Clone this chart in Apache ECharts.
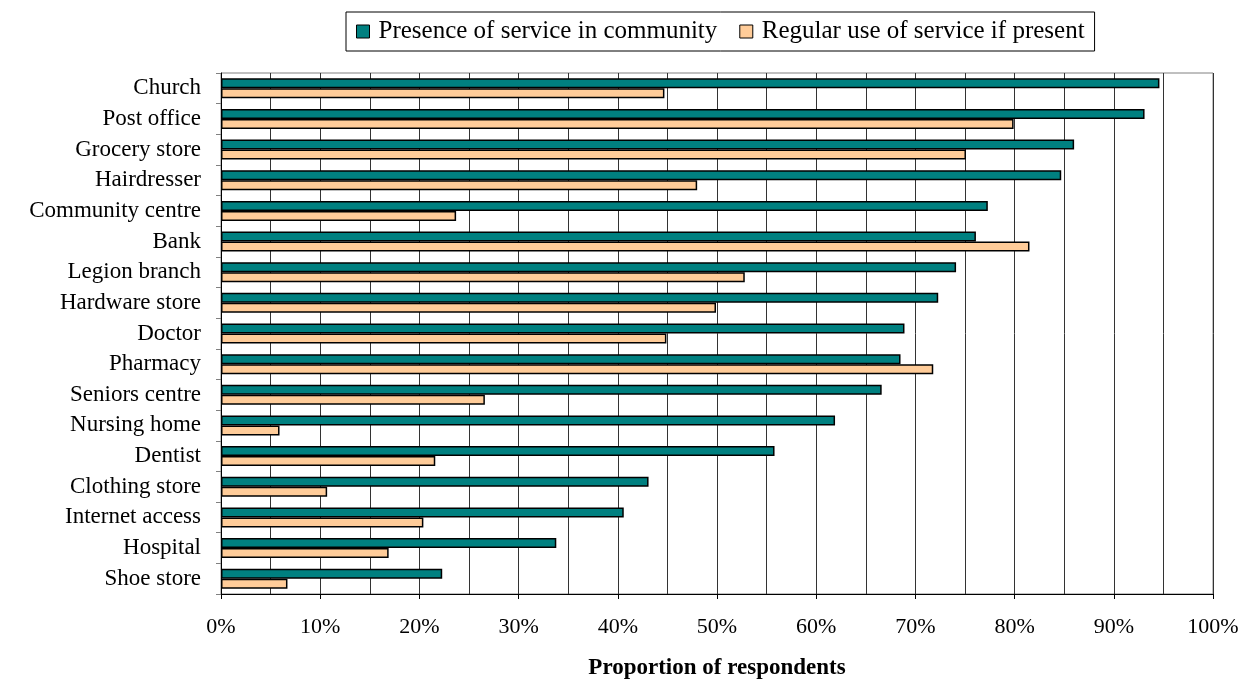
<!DOCTYPE html>
<html>
<head>
<meta charset="utf-8">
<title>Services in community</title>
<script src="https://cdn.jsdelivr.net/npm/echarts@6/dist/echarts.min.js"></script>
<style>
  html, body { margin: 0; padding: 0; background: #fff; }
  #chart { width: 1249px; height: 685px; }
</style>
</head>
<body>
<div id="chart"></div>
<script>
// 类目 (top to bottom)
var categories = ['Church', 'Post office', 'Grocery store', 'Hairdresser', 'Community centre', 'Bank',
  'Legion branch', 'Hardware store', 'Doctor', 'Pharmacy', 'Seniors centre', 'Nursing home',
  'Dentist', 'Clothing store', 'Internet access', 'Hospital', 'Shoe store'];
var presence = [94.6, 93.1, 86.0, 84.7, 77.3, 76.1, 74.1, 72.3, 68.9, 68.5, 66.6, 61.9, 55.8, 43.1, 40.6, 33.8, 22.3];
var regularUse = [44.7, 79.9, 75.1, 48.0, 23.7, 81.5, 52.8, 49.9, 44.9, 71.8, 26.6, 5.9, 21.6, 10.7, 20.4, 16.9, 6.7];
var seriesNames = ['Presence of service in community', 'Regular use of service if present'];

var font = "'Liberation Serif', 'Times New Roman', serif";
var chart = echarts.init(document.getElementById('chart'));

var option = {
  animation: false,
  textStyle: { fontFamily: font },
  legend: {
    data: seriesNames,
    left: 346,
    top: 12,
    padding: [7, 10],
    itemGap: 22,
    itemWidth: 13,
    itemHeight: 13,
    icon: 'rect',
    borderColor: '#000',
    borderWidth: 1,
    itemStyle: { borderColor: '#000', borderWidth: 1 },
    textStyle: { fontFamily: font, fontSize: 25, color: '#000', padding: [0, 0, 0, 4] }
  },
  grid: {
    left: 221,
    right: 36,
    top: 73,
    bottom: 87,
    show: true,
    borderColor: '#808080',
    borderWidth: 1
  },
  xAxis: {
    type: 'value',
    min: 0,
    max: 100,
    interval: 10,
    name: 'Proportion of respondents',
    nameLocation: 'middle',
    nameGap: 63,
    nameTextStyle: { fontFamily: font, fontSize: 23, fontWeight: 'bold', color: '#000' },
    axisLine: { show: true, lineStyle: { color: '#000', width: 1 } },
    axisTick: { show: true, inside: false, length: 5, lineStyle: { color: '#000' } },
    axisLabel: {
      margin: 22,
      fontFamily: font,
      fontSize: 22,
      color: '#000',
      formatter: '{value}%'
    },
    splitLine: { show: true, lineStyle: { color: '#333', width: 1 } },
    minorTick: { show: false, splitNumber: 2 },
    minorSplitLine: { show: true, lineStyle: { color: '#333', width: 1 } }
  },
  yAxis: {
    type: 'category',
    data: categories,
    inverse: true,
    axisLine: { show: true, lineStyle: { color: '#000', width: 1 } },
    axisTick: { show: true, inside: false, length: 5, lineStyle: { color: '#808080' } },
    axisLabel: { margin: 20, fontFamily: font, fontSize: 23, color: '#000' },
    splitLine: { show: false }
  },
  series: [
    {
      name: seriesNames[0],
      type: 'bar',
      data: presence,
      barWidth: 10,
      barGap: '0%',
      itemStyle: { color: '#008080', borderColor: '#000', borderWidth: 1.5 }
    },
    {
      name: seriesNames[1],
      type: 'bar',
      data: regularUse,
      barWidth: 10,
      barGap: '0%',
      itemStyle: { color: '#FFCC99', borderColor: '#000', borderWidth: 1.5 }
    }
  ]
};

chart.setOption(option, true);
</script>
</body>
</html>
